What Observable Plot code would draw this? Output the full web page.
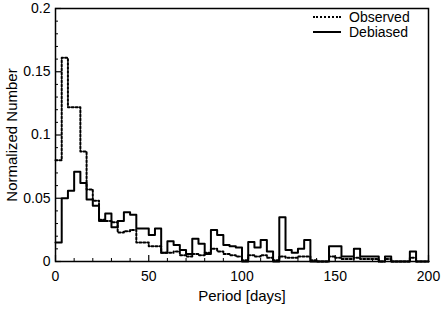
<!DOCTYPE html>
<html><head><meta charset="utf-8">
<script src="https://cdn.jsdelivr.net/npm/d3@7"></script>
<script src="https://cdn.jsdelivr.net/npm/@observablehq/plot@0.6"></script>
<style>
body{margin:0;background:#fff;}
#wrap{position:relative;width:443px;height:313px;font-family:"Liberation Sans",Arial,sans-serif;}
#legend{position:absolute;left:313px;top:9px;font-size:14px;color:#000;}
.row{display:flex;align-items:center;height:15px;}
.sw{width:28px;height:0;border-top:2px solid #000;margin-right:8px;}
.sw.dot{border-top-style:dotted;}
</style>
</head><body>
<div id="wrap"><div id="legend">
<div class="row"><span class="sw dot"></span><span>Observed</span></div>
<div class="row"><span class="sw"></span><span>Debiased</span></div>
</div></div>
<script>
const binWidth = 200 / 60; // 60 bins over 0–200 days
const observed = [0.080,0.161,0.122,0.122,0.087,0.057,0.048,0.033,0.032,0.031,
  0.023,0.024,0.025,0.015,0.015,0.012,0.012,0.007,0.007,0.008,
  0.005,0.004,0.006,0.005,0.007,0.010,0.008,0.006,0.005,0.004,
  0.001,0.005,0.004,0.005,0.003,0.001,0.004,0.003,0.003,0.004,
  0.004,0.001,0,0,0.004,0.003,0.002,0.002,0.003,0.002,
  0.002,0.002,0,0.002,0,0,0,0.003,0,0];
const debiased = [0.015,0.050,0.056,0.071,0.062,0.049,0.044,0.032,0.038,0.027,
  0.032,0.039,0.037,0.026,0.026,0.021,0.026,0.007,0.016,0.013,
  0.009,0.006,0.018,0.014,0.006,0.025,0.021,0.013,0.012,0.011,
  0,0.0155,0.011,0.017,0.008,0,0.035,0.009,0.007,0.010,
  0.017,0,0,0,0.012,0.012,0.004,0.004,0.010,0.004,
  0.004,0.004,0,0.004,0,0,0,0.008,0,0];
const xMajor = [0,50,100,150,200];
const xMinor = [10,20,30,40,60,70,80,90,110,120,130,140,160,170,180,190];
const yMajor = [0,0.05,0.1,0.15,0.2];
const yMinor = [0.01,0.02,0.03,0.04,0.06,0.07,0.08,0.09,0.11,0.12,0.13,0.14,0.16,0.17,0.18,0.19];

const steps = vals => [...vals.map((v,i)=>({x:i*binWidth,y:v})), {x:200,y:vals[vals.length-1]}];

const W=443,H=313,mL=55,mR=15,mT=8,mB=52;
const pw=W-mL-mR, ph=H-mT-mB;
const chart = Plot.plot({
  width:W, height:H, marginLeft:mL, marginRight:mR, marginTop:mT, marginBottom:mB,
  style:{fontFamily:"Liberation Sans, Arial, sans-serif", fontSize:"14px", background:"white", color:"black"},
  x:{domain:[0,200]},
  y:{domain:[0,0.2]},
  marks:[
    Plot.line(steps(observed), {x:"x", y:"y", curve:"step-after", stroke:"black", strokeWidth:2, strokeDasharray:"2,2"}),
    Plot.line(steps(debiased), {x:"x", y:"y", curve:"step-after", stroke:"black", strokeWidth:2}),
    Plot.ruleX(xMajor, {insetTop:ph-6, stroke:"black", strokeWidth:1.2}),
    Plot.ruleX(xMinor, {insetTop:ph-3, stroke:"black"}),
    Plot.ruleY(yMajor, {insetRight:pw-6, stroke:"black", strokeWidth:1.2}),
    Plot.ruleY(yMinor, {insetRight:pw-3, stroke:"black"}),
    Plot.axisX(xMajor, {tickSize:0, tickPadding:10, label:null, fontSize:14}),
    Plot.axisY(yMajor, {tickSize:0, tickPadding:5, label:null, fontSize:14, tickFormat:d=>String(d)}),
    Plot.frame({stroke:"black", strokeWidth:1.5}),
    Plot.text(["Period [days]"], {frameAnchor:"bottom", dy:39, fontSize:15}),
    Plot.text(["Normalized Number"], {frameAnchor:"left", textAnchor:"middle", dx:-43, rotate:-90, fontSize:15})
  ]
});
document.getElementById("wrap").prepend(chart);
chart.style.position="absolute"; chart.style.left="0"; chart.style.top="0";
</script>
</body></html>
